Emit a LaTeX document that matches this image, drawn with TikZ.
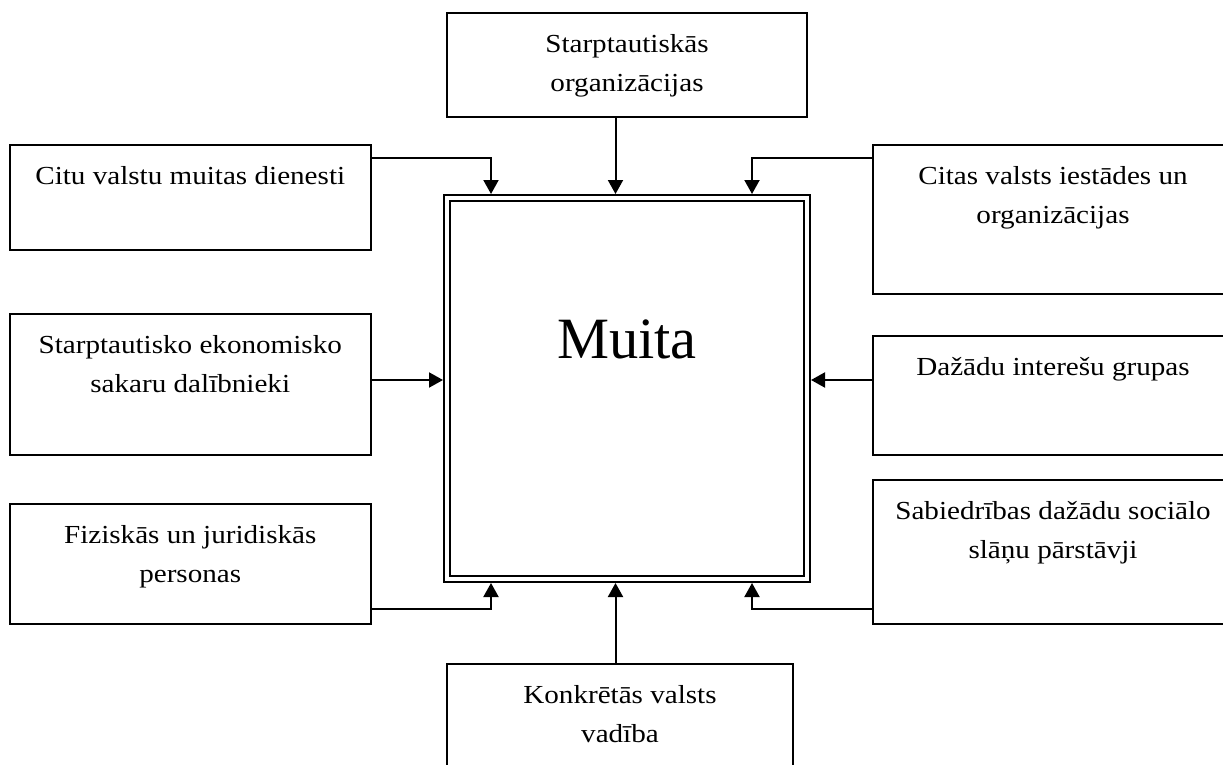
\documentclass[tikz,border=0pt]{standalone}
\usepackage{fontspec}
\setmainfont{Liberation Serif}
\newfontfamily\boxfont[FakeStretch=1.12]{Liberation Serif}
\usetikzlibrary{arrows.meta,calc}
\begin{document}
\begin{tikzpicture}[x=1pt,y=-1pt,outer sep=0pt,
  box/.style={draw,line width=2pt,inner sep=0pt,outer sep=0pt,anchor=north west},
  lbl/.style={anchor=north,inner sep=0pt,outer sep=0pt,yshift=-21pt,align=center,
    font=\boxfont\fontsize{26}{39}\selectfont},
  arr/.style={line width=2pt,-{Triangle[length=14pt,width=15pt]}}]
\useasboundingbox (0,0) rectangle (1223,765);
\clip (0,0) rectangle (1223,765);

% central double-framed box
\node[draw,double,line width=2pt,double distance=4pt,inner sep=0pt,outer sep=0pt,
  anchor=north west,minimum width=360pt,minimum height=381pt] (mu) at (447,198) {};
\node[anchor=base,inner sep=0pt,font=\fontsize{58.5}{60}\selectfont] (mutxt) at (627,358) {Muita};

% surrounding boxes
\node[box,minimum width=360pt,minimum height=104pt,
  label={[lbl]north:{Starptautiskās\\organizācijas}}] (top) at (447,13.5) {};
\node[box,minimum width=360.5pt,minimum height=105pt,
  label={[lbl]north:{Citu valstu muitas dienesti}}] (l1) at (10,145) {};
\node[box,minimum width=360pt,minimum height=149pt,
  label={[lbl]north:{Citas valsts iestādes un\\organizācijas}}] (r1) at (873,145) {};
\node[box,minimum width=360.5pt,minimum height=140.5pt,
  label={[lbl]north:{Starptautisko ekonomisko\\sakaru dalībnieki}}] (l2) at (10,314) {};
\node[box,minimum width=360pt,minimum height=118.5pt,
  label={[lbl]north:{Dažādu interešu grupas}}] (r2) at (873,336) {};
\node[box,minimum width=360.5pt,minimum height=120pt,
  label={[lbl]north:{Fiziskās un juridiskās\\personas}}] (l3) at (10,504) {};
\node[box,minimum width=360pt,minimum height=144pt,
  label={[lbl]north:{Sabiedrības dažādu sociālo\\slāņu pārstāvji}}] (r3) at (873,480) {};
\node[box,minimum width=346pt,minimum height=130pt,
  label={[lbl]north:{Konkrētās valsts\\vadība}}] (bot) at (447,664) {};

% connectors into the central box
\draw[arr] ($(top.south west)+(168.5,0)$) -- ($(mu.north west)+(168.5,-4)$);
\draw[arr] ($(l1.north east)+(0,13)$) -| ($(mu.north west)+(44,-4)$);
\draw[arr] ($(r1.north west)+(0,13)$) -| ($(mu.north east)+(-55,-4)$);
\draw[arr] ($(l2.north east)+(0,66)$) -- ($(mu.west)+(-4,-8.5)$);
\draw[arr] ($(r2.north west)+(0,44)$) -- ($(mu.east)+(4,-8.5)$);
\draw[arr] ($(l3.north east)+(0,105)$) -| ($(mu.south west)+(44,4)$);
\draw[arr] ($(r3.north west)+(0,129)$) -| ($(mu.south east)+(-55,4)$);
\draw[arr] ($(bot.north west)+(168.5,0)$) -- ($(mu.south west)+(168.5,4)$);
\end{tikzpicture}
\end{document}
